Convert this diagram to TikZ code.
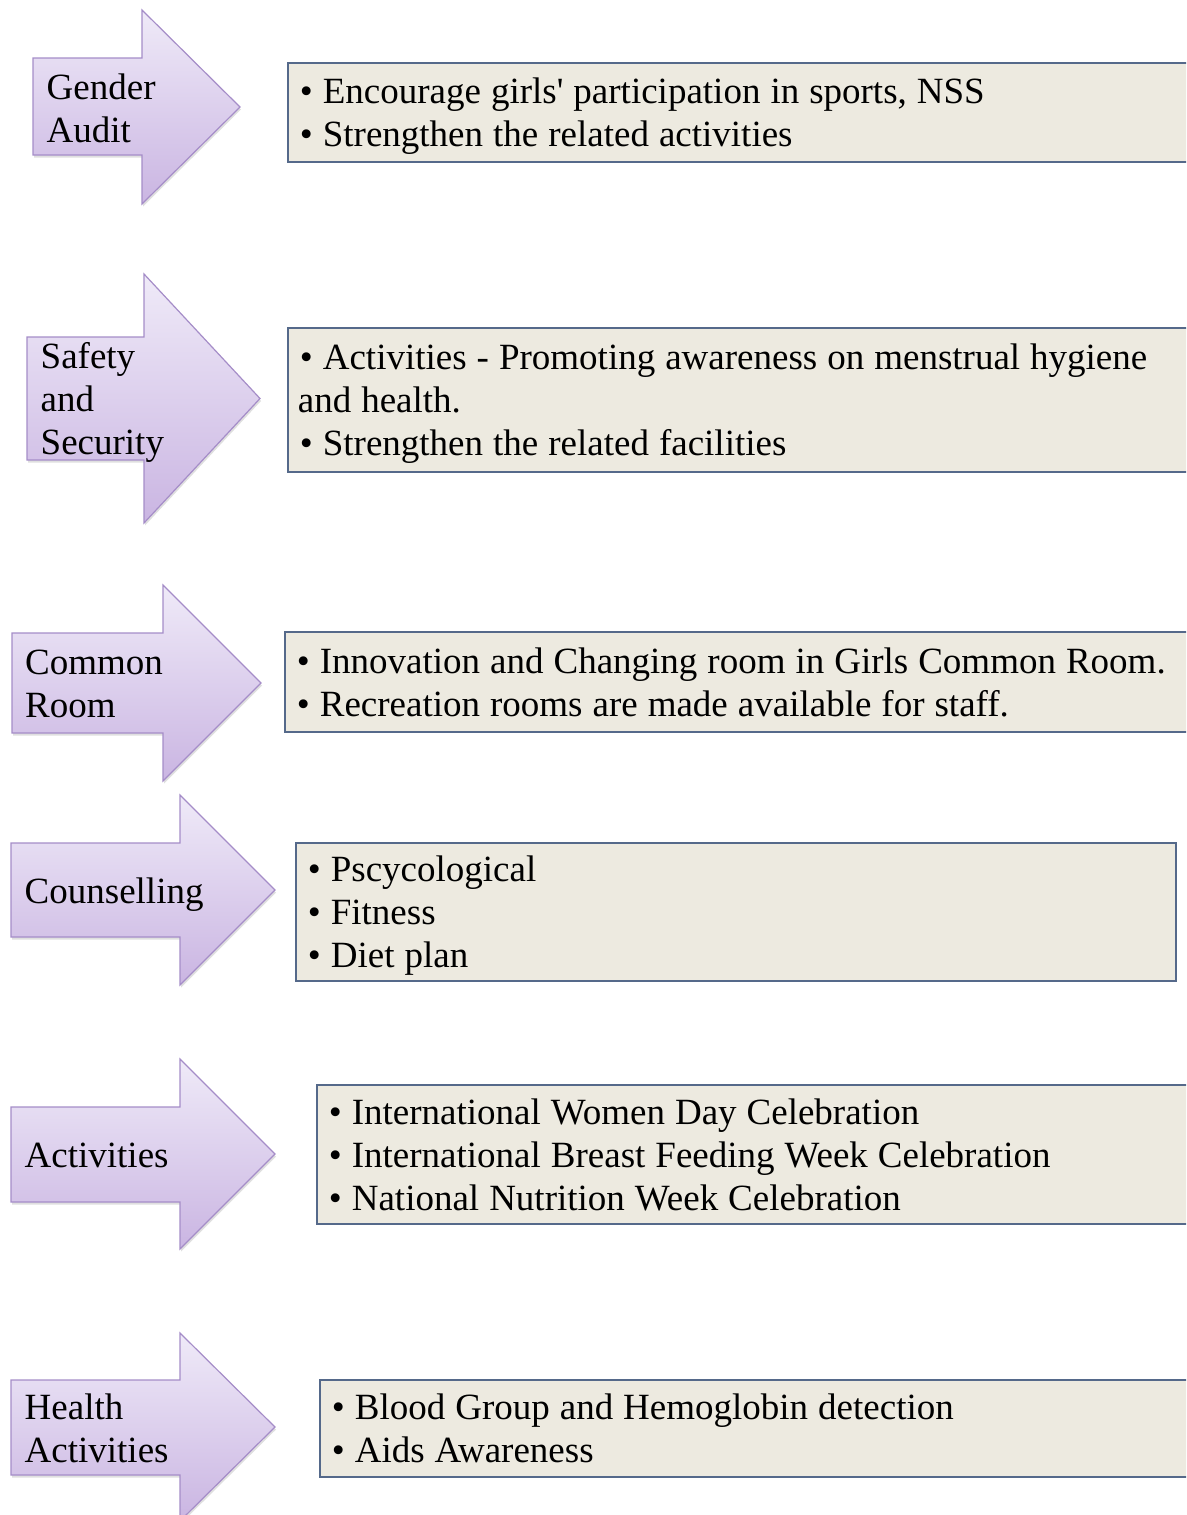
\documentclass[tikz,border=0pt]{standalone}
\usepackage{fontspec}
\setmainfont{Liberation Serif}[Ligatures=TeXOff]
\usetikzlibrary{shadows}
\definecolor{arrtop}{HTML}{EFEAF8}
\definecolor{arrbot}{HTML}{CAB5E2}
\definecolor{arrline}{HTML}{A58DC8}
\definecolor{boxfill}{HTML}{EDEAE0}
\definecolor{boxline}{HTML}{55698A}
\newcommand\mytopst{\spaceskip=0.27em\relax\xspaceskip=0.3em\relax\rule{0pt}{36pt}}
\newcommand\mybotst{\rule[-10pt]{0pt}{10pt}}
\tikzset{
  bigarrow/.style={draw=arrline, line width=1.2pt, top color=arrtop, bottom color=arrbot,
     drop shadow={opacity=0.25, shadow xshift=1pt, shadow yshift=-2.5pt}},
  arrowtext/.style={anchor=west, align=left, inner sep=0pt, font=\fontsize{37}{43}\selectfont},
  infobox/.style={draw=boxline, line width=1.8pt, fill=boxfill, rectangle, anchor=north west,
     align=left, inner xsep=12pt, inner ysep=0pt, font=\fontsize{37}{43}\selectfont}
}
\begin{document}
\begin{tikzpicture}[x=1pt,y=-1pt]
\useasboundingbox (0,0) rectangle (1186,1515);
\clip (0,0) rectangle (1186,1515);
% arrows
\path[bigarrow] (33,58) -- (142,58) -- (142,10) -- (240,107) -- (142,204) -- (142,155) -- (33,155) -- cycle;
\path[bigarrow] (27,337) -- (144,337) -- (144,274) -- (260,398.5) -- (144,523) -- (144,460) -- (27,460) -- cycle;
\path[bigarrow] (12,633) -- (163,633) -- (163,585) -- (261,683) -- (163,781) -- (163,733) -- (12,733) -- cycle;
\path[bigarrow] (11,843) -- (180,843) -- (180,795) -- (275,890) -- (180,985) -- (180,937) -- (11,937) -- cycle;
\path[bigarrow] (11,1107) -- (180,1107) -- (180,1059) -- (275,1154) -- (180,1249) -- (180,1202) -- (11,1202) -- cycle;
\path[bigarrow] (11,1380) -- (180,1380) -- (180,1333) -- (275,1427) -- (180,1521) -- (180,1475) -- (11,1475) -- cycle;
% arrow labels
\node[arrowtext] (t1) at (46.5,107.5) {\mytopst Gender\\Audit\mybotst};
\node[arrowtext] (t2) at (40.5,398) {\mytopst Safety\\and\\Security\mybotst};
\node[arrowtext] (t3) at (25,683) {\mytopst Common\\Room\mybotst};
\node[arrowtext] (t4) at (24.5,890) {\mytopst Counselling\mybotst};
\node[arrowtext] (t5) at (24.5,1154) {\mytopst Activities\mybotst};
\node[arrowtext] (t6) at (24.5,1427.5) {\mytopst Health\\Activities\mybotst};
% boxes
\node[infobox, minimum width=913pt, minimum height=99pt, text width=889pt] (b1) at (287,62)
  {\mytopst• Encourage girls' participation in sports, NSS\\• Strengthen the related activities\mybotst};
\node[infobox, minimum width=913pt, minimum height=144pt, text width=889pt] (b2) at (287,327)
  {\mytopst• Activities - Promoting awareness on menstrual hygiene\\\hspace*{-2pt}and health.\\• Strengthen the related facilities\mybotst};
\node[infobox, minimum width=916pt, minimum height=100pt, text width=892pt] (b3) at (284,631)
  {\mytopst• Innovation and Changing room in Girls Common Room.\\• Recreation rooms are made available for staff.\mybotst};
\node[infobox, minimum width=880pt, minimum height=138pt, text width=856pt] (b4) at (295,842)
  {\mytopst• Pscycological\\• Fitness\\• Diet plan\mybotst};
\node[infobox, minimum width=884pt, minimum height=139pt, text width=860pt] (b5) at (316,1084)
  {\mytopst• International Women Day Celebration\\• International Breast Feeding Week Celebration\\• National Nutrition Week Celebration\mybotst};
\node[infobox, minimum width=881pt, minimum height=97pt, text width=857pt] (b6) at (319,1379)
  {\mytopst• Blood Group and Hemoglobin detection\\• Aids Awareness\mybotst};
\end{tikzpicture}
\end{document}
